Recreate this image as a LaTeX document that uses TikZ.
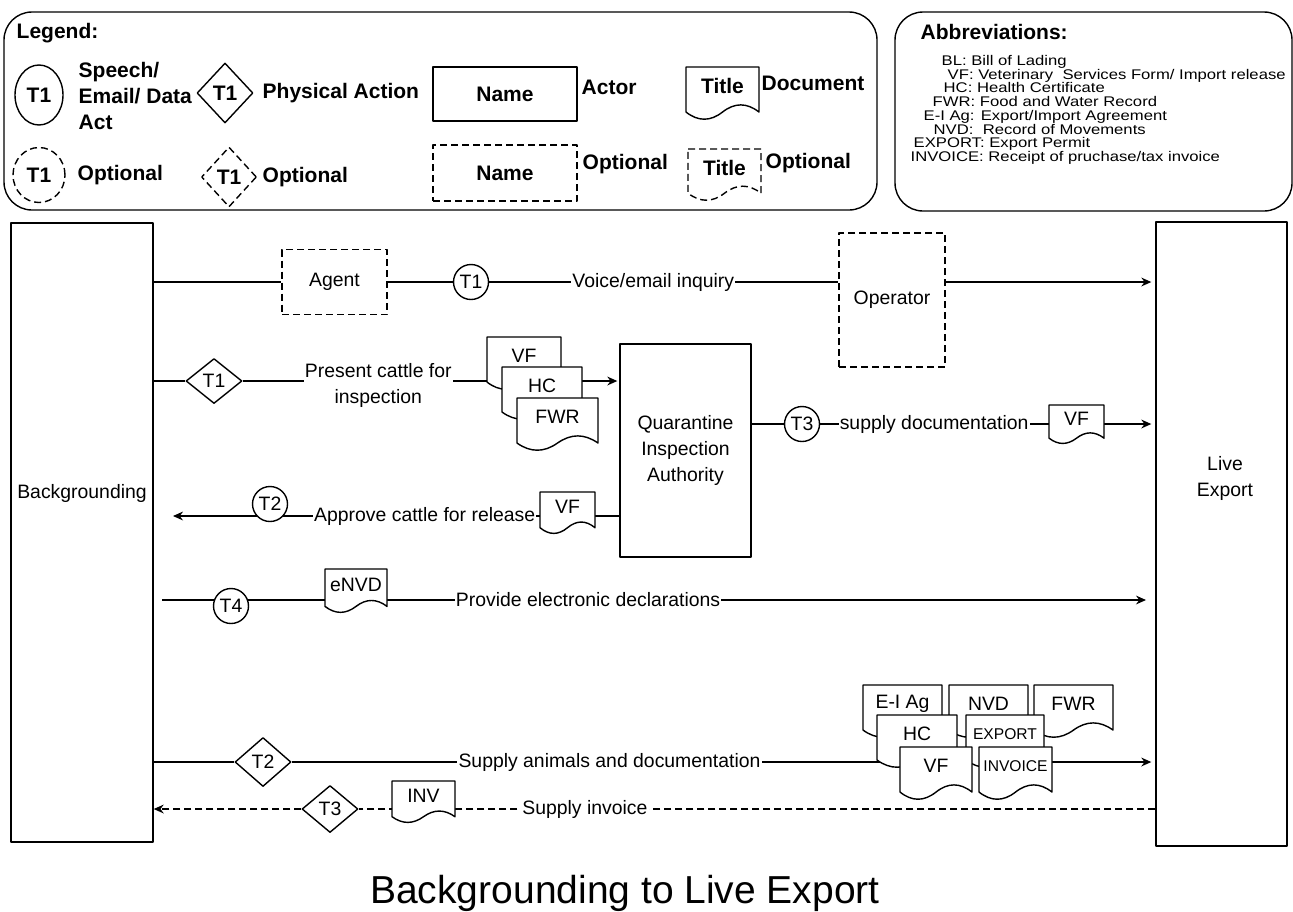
\documentclass[tikz,border=0pt]{standalone}
\usepackage{fontspec}
\setmainfont{Liberation Sans}
\newfontfamily\widesans{Liberation Sans}[FakeStretch=1.19]
\usetikzlibrary{arrows.meta,shapes.geometric}

\newcommand{\lblfont}{\fontsize{9.7}{13}\selectfont}
\newcommand{\lgdfont}{\fontsize{10.5}{13}\selectfont\bfseries}
\newcommand{\abbfont}{\widesans\fontsize{7}{8}\selectfont}
\newcommand{\smallfont}{\fontsize{7.8}{9}\selectfont}
\newcommand{\titlefont}{\fontsize{19.5}{23}\selectfont}

% document sheet: [path options]{name}{left}{top}{width}{height}{text}
\newcommand{\docsheet}[7][]{%
  \filldraw[fill=white,#1] (#3,#4) -- ({#3+#5},#4) -- ({#3+#5},{#4+0.85*#6})
    .. controls ({#3+0.8333*#5},{#4+0.67*#6}) and ({#3+0.6667*#5},{#4+0.67*#6}) .. ({#3+0.5*#5},{#4+0.85*#6})
    .. controls ({#3+0.3333*#5},{#4+1.03*#6}) and ({#3+0.1667*#5},{#4+1.03*#6}) .. (#3,{#4+0.85*#6}) -- cycle;
  \node[inner sep=0pt] (#2) at ({#3+0.5*#5},{#4+0.36*#6}) {#7};}

\begin{document}
\begin{tikzpicture}[x=0.5pt, y=-0.5pt, line width=0.7pt, line join=round,
    >={Stealth[length=5pt,width=4.4pt]},
    every node/.style={font=\lblfont},
    actor/.style={draw, fill=white, inner sep=0pt, align=center},
    optional/.style={dash pattern=on 3.5pt off 2pt},
    act/.style={circle, draw, fill=white, inner sep=0pt, minimum size=17.5pt},
    phys/.style={diamond, draw, fill=white, inner sep=0pt, minimum width=28pt, minimum height=24.5pt},
    lbl/.style={fill=white, inner sep=0.6pt, align=center},
    txt/.style={anchor=west, inner sep=0pt, align=left, font=\lgdfont},
    frame/.style={rounded corners=14pt}]
  \useasboundingbox (0,0) rectangle (1293,911);

  % legend
  \draw[frame] (4,12) rectangle (877,210);
  \node[txt] (lgd) at (16,33) {Legend:};
  \node[act, ellipse, minimum width=24pt, minimum height=30pt, font=\lgdfont] (lg1) at (39,95) {T1};
  \node[txt] (lg1t) at (78,96) {Speech/\\Email/ Data\\Act};
  \node[phys, minimum height=30pt, font=\lgdfont] (lg2) at (225,93) {T1};
  \node[txt] (lg2t) at (262,93) {Physical Action};
  \node[actor, minimum width=72pt, minimum height=27pt, font=\lgdfont] (lg3) at (505,94) {Name};
  \node[txt] (lg3t) at (581,87) {Actor};
  \docsheet{lg4}{686}{67}{73}{53}{\lgdfont Title}
  \node[txt] (lg4t) at (761,83) {Document};
  \node[act, ellipse, optional, minimum width=26pt, minimum height=27.5pt, font=\lgdfont] (lg5) at (39,175) {T1};
  \node[txt] (lg5t) at (77,175) {Optional};
  \node[phys, optional, minimum width=27.5pt, minimum height=30pt, font=\lgdfont] (lg6) at (229,177) {T1};
  \node[txt] (lg6t) at (262,177) {Optional};
  \node[actor, optional, minimum width=72pt, minimum height=28pt, font=\lgdfont] (lg7) at (505,173) {Name};
  \node[txt] (lg7t) at (582,164) {Optional};
  \docsheet[optional]{lg8}{688}{149}{73}{52}{\lgdfont Title}
  \node[txt] (lg8t) at (765,163) {Optional};

  % abbreviations
  \draw[frame] (895,12) rectangle (1292,211);
  \node[txt] (abt) at (920,32) {Abbreviations:};
  \foreach \x/\t [count=\i] in {941/{BL: Bill of Lading},
      947/{VF: Veterinary\ \ Services Form/ Import release},
      943/{HC: Health Certificate},
      932/{FWR: Food and Water Record},
      923/{E-I Ag: Export/Import Agreement},
      933/{NVD:\ \ Record of Movements},
      913/{EXPORT: Export Permit},
      910/{INVOICE: Receipt of pruchase/tax invoice}}
    \node[anchor=base west, inner sep=0pt, font=\abbfont] (ab\i) at (\x,{51.8+13.7*\i}) {\t};

  % lanes
  \node[actor, minimum width=71pt, minimum height=309.5pt] (bg) at (82,532.5) {};
  \node (bgt) at (82,493) {Backgrounding};
  \node[actor, minimum width=65.5pt, minimum height=312pt] (le) at (1221.5,534) {};
  \node[align=center] (let) at (1225,478.5) {Live\\Export};

  % voice/email inquiry
  \node[actor, optional, minimum width=52.5pt, minimum height=32.5pt] (agent) at (334.5,282) {Agent};
  \node[act] (c1) at (471,282) {T1};
  \node[actor, optional, minimum width=53pt, minimum height=67pt] (oper) at (892,300) {Operator};
  \draw (bg.east |- agent) -- (agent);
  \draw (agent) -- (c1);
  \draw (c1) -- node[lbl, pos=0.47] (l1) {Voice/email inquiry} (oper.west |- c1);
  \draw[->, shorten >=2pt] (oper.east |- c1) -- (le.west |- c1);

  % present cattle
  \node[phys, minimum height=22.5pt] (d1) at (214,381) {T1};
  \node[actor, minimum width=65.5pt, minimum height=106.5pt] (qia) at (685.5,450.5) {Quarantine\\Inspection\\Authority};
  \draw (bg.east |- d1) -- (d1);
  \draw[->, shorten >=1pt] (d1) -- node[lbl, pos=0.36, yshift=-2pt] (l2) {Present cattle for\\inspection} (qia.west |- d1);
  \docsheet{vf1}{487}{337}{74}{53}{VF}
  \docsheet{hc1}{502}{367}{80}{53}{HC}
  \docsheet{fwr1}{517}{398}{81}{53}{FWR}

  % supply documentation
  \node[act] (c3) at (802,424) {T3};
  \draw (qia.east |- c3) -- (c3);
  \draw[->, shorten >=2pt] (c3) -- node[lbl, pos=0.34] (l3) {supply documentation} (le.west |- c3);
  \docsheet{vf2}{1049}{405}{55}{39}{VF}

  % approve cattle
  \coordinate (apend) at (173,516);
  \draw[->] (qia.west |- apend) -- node[lbl, pos=0.436] (l4) {Approve cattle for release} (apend);
  \node[act] (c2) at (270,504) {T2};
  \docsheet{vf3}{540}{492}{55}{42}{VF}

  % electronic declarations
  \coordinate (pvstart) at (162,600);
  \coordinate (pvend) at (1146,600);
  \draw[->] (pvstart) -- node[lbl, pos=0.433] (l5) {Provide electronic declarations} (pvend);
  \node[act] (c4) at (231,606) {T4};
  \docsheet{envd}{325}{569}{62}{44}{eNVD}

  % supply animals
  \node[phys] (d2) at (263,762) {T2};
  \draw (bg.east |- d2) -- (d2);
  \draw[->, shorten >=2pt] (d2) -- node[lbl, pos=0.368] (l6) {Supply animals and documentation} (le.west |- d2);
  \docsheet{eia}{863}{685}{79}{53}{E-I Ag}
  \docsheet{nvd}{949}{685}{79}{53}{NVD}
  \docsheet{fwr2}{1034}{685}{79}{53}{FWR}
  \docsheet{hc2}{877}{715}{80}{53}{HC}
  \docsheet{expt}{966}{715}{78}{53}{\smallfont EXPORT}
  \docsheet{vf4}{900}{747}{72}{53}{VF}
  \docsheet{invc}{979}{747}{73}{53}{\smallfont INVOICE}

  % supply invoice
  \node[phys, minimum height=23.5pt] (d3) at (330,809) {T3};
  \draw[optional] (le.west |- d3) -- node[lbl, pos=0.716] (l7) {Supply invoice} (d3);
  \draw[->, optional] (d3) -- (bg.east |- d3);
  \docsheet{inv}{392}{781}{63}{42}{INV}

  \node[font=\titlefont] (title) at (625,893) {Backgrounding to Live Export};
\end{tikzpicture}
\end{document}
